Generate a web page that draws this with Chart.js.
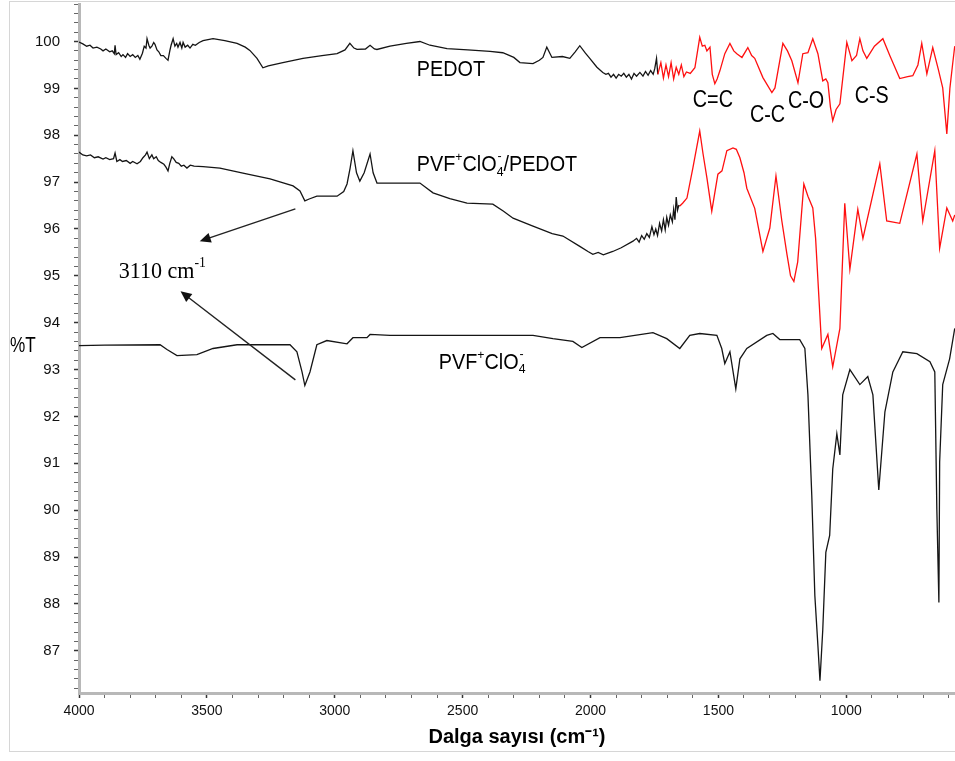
<!DOCTYPE html>
<html>
<head>
<meta charset="utf-8">
<title>FTIR</title>
<script src="https://cdn.jsdelivr.net/npm/chart.js@4.4.1/dist/chart.umd.min.js"></script>
<style>
  html, body { margin: 0; padding: 0; background: #fff; }
  #frame { position: absolute; left: 9px; top: 1px; width: 960px; height: 749px; border: 1px solid #d6d6d6; }
  #ftir { position: absolute; left: 0; top: 0; }
</style>
</head>
<body>
<div id="frame"></div>
<canvas id="ftir" width="955" height="761"></canvas>
<script>
// dalga sayısı (cm-1) ve %T değerleri
const pedotWn = [4000, 3985, 3970, 3957, 3945, 3930, 3915, 3906, 3895, 3880, 3870, 3862, 3859, 3855, 3845, 3835, 3828, 3818, 3810, 3800, 3790, 3780, 3770, 3762, 3752, 3745, 3738, 3734, 3727, 3722, 3715, 3708, 3703, 3695, 3688, 3680, 3670, 3660, 3652, 3645, 3640, 3632, 3625, 3618, 3613, 3605, 3598, 3593, 3585, 3575, 3566, 3555, 3545, 3530, 3515, 3476, 3430, 3382, 3350, 3332, 3304, 3281, 3260, 3203, 3124, 3050, 2991, 2960, 2941, 2925, 2913, 2880, 2862, 2845, 2835, 2784, 2720, 2667, 2628, 2561, 2480, 2393, 2343, 2300, 2276, 2225, 2200, 2186, 2171, 2151, 2110, 2081, 2060, 2042, 2020, 2003, 1975, 1952, 1940, 1930, 1920, 1910, 1900, 1890, 1880, 1870, 1860, 1850, 1840, 1830, 1820, 1807, 1795, 1785, 1775, 1765, 1755, 1749, 1742, 1737, 1725, 1715, 1705, 1695, 1685, 1675, 1665, 1655, 1645, 1635, 1625, 1610, 1592, 1573, 1563, 1553, 1545, 1533, 1524, 1514, 1505, 1494, 1475, 1455, 1440, 1428, 1408, 1385, 1370, 1358, 1326, 1291, 1279, 1248, 1230, 1213, 1189, 1170, 1150, 1131, 1111, 1092, 1080, 1072, 1062, 1053, 1040, 1025, 998, 978, 960, 947, 935, 920, 890, 857, 830, 791, 760, 740, 720, 705, 685, 662, 640, 623, 607, 595, 584, 576];
const pedotT = [99.99, 99.95, 99.9, 99.92, 99.86, 99.88, 99.84, 99.8, 99.84, 99.78, 99.8, 99.74, 99.92, 99.72, 99.76, 99.68, 99.72, 99.66, 99.74, 99.68, 99.72, 99.66, 99.7, 99.62, 99.75, 99.9, 99.86, 100.06, 99.92, 99.86, 99.9, 99.98, 99.94, 99.82, 99.78, 99.7, 99.7, 99.64, 99.6, 99.8, 99.92, 100.06, 99.9, 99.96, 99.88, 99.98, 99.86, 99.98, 99.88, 99.92, 99.86, 99.94, 99.92, 99.98, 100.02, 100.06, 100.02, 99.96, 99.88, 99.81, 99.64, 99.44, 99.48, 99.55, 99.64, 99.7, 99.74, 99.82, 99.96, 99.86, 99.83, 99.84, 99.92, 99.84, 99.83, 99.9, 99.96, 100.0, 99.92, 99.85, 99.82, 99.79, 99.76, 99.66, 99.55, 99.53, 99.6, 99.66, 99.88, 99.66, 99.68, 99.64, 99.78, 99.91, 99.75, 99.64, 99.45, 99.34, 99.3, 99.32, 99.24, 99.3, 99.22, 99.3, 99.26, 99.32, 99.24, 99.3, 99.2, 99.32, 99.26, 99.34, 99.26, 99.36, 99.28, 99.38, 99.3, 99.42, 99.64, 99.3, 99.55, 99.22, 99.5, 99.25, 99.55, 99.2, 99.45, 99.3, 99.5, 99.25, 99.35, 99.32, 99.44, 100.09, 99.9, 99.92, 99.8, 99.88, 99.3, 99.1, 99.2, 99.38, 99.74, 99.96, 99.8, 99.74, 99.66, 99.87, 99.7, 99.64, 99.23, 98.91, 99.01, 99.96, 99.8, 99.59, 99.12, 99.74, 99.76, 100.06, 99.74, 99.16, 99.2, 99.12, 98.6, 98.31, 98.55, 98.67, 99.98, 99.59, 99.7, 100.06, 99.8, 99.64, 99.9, 100.06, 99.7, 99.21, 99.25, 99.27, 99.5, 99.96, 99.31, 99.87, 99.4, 99.01, 98.03, 99.0, 99.53, 99.9];

const kompWn = [4000, 3985, 3970, 3955, 3940, 3925, 3906, 3895, 3880, 3865, 3859, 3852, 3840, 3830, 3815, 3800, 3790, 3773, 3760, 3750, 3740, 3734, 3725, 3715, 3708, 3698, 3690, 3680, 3668, 3660, 3652, 3645, 3637, 3630, 3620, 3610, 3600, 3590, 3578, 3565, 3550, 3515, 3449, 3359, 3253, 3163, 3136, 3117, 3100, 3070, 2991, 2965, 2952, 2940, 2929, 2915, 2902, 2885, 2862, 2850, 2835, 2784, 2667, 2616, 2550, 2483, 2382, 2340, 2303, 2225, 2150, 2108, 2042, 2010, 1991, 1970, 1950, 1913, 1880, 1834, 1820, 1810, 1800, 1790, 1780, 1770, 1760, 1752, 1745, 1738, 1730, 1722, 1715, 1708, 1702, 1695, 1688, 1680, 1675, 1670, 1665, 1660, 1655, 1651, 1640, 1623, 1600, 1573, 1560, 1545, 1526, 1502, 1486, 1467, 1443, 1430, 1416, 1400, 1389, 1358, 1326, 1299, 1275, 1252, 1232, 1218, 1205, 1190, 1166, 1150, 1131, 1120, 1096, 1072, 1053, 1025, 1006, 986, 955, 935, 869, 842, 791, 724, 701, 654, 635, 607, 584, 576];
const kompT = [97.64, 97.58, 97.56, 97.58, 97.52, 97.54, 97.49, 97.52, 97.48, 97.5, 97.62, 97.44, 97.48, 97.44, 97.46, 97.4, 97.44, 97.39, 97.44, 97.52, 97.58, 97.64, 97.5, 97.58, 97.5, 97.54, 97.46, 97.42, 97.38, 97.32, 97.24, 97.4, 97.54, 97.5, 97.42, 97.4, 97.34, 97.36, 97.3, 97.36, 97.34, 97.33, 97.3, 97.19, 97.07, 96.92, 96.81, 96.6, 96.64, 96.7, 96.7, 96.8, 96.96, 97.3, 97.67, 97.2, 97.02, 97.2, 97.6, 97.2, 96.98, 96.98, 96.98, 96.77, 96.65, 96.55, 96.53, 96.38, 96.23, 96.06, 95.9, 95.85, 95.63, 95.52, 95.46, 95.5, 95.45, 95.52, 95.6, 95.74, 95.8, 95.72, 95.86, 95.78, 95.9, 95.82, 96.05, 95.88, 96.0, 95.86, 96.12, 95.96, 96.2, 95.98, 96.25, 96.08, 96.3, 96.15, 96.42, 96.2, 96.68, 96.4, 96.5, 96.49, 96.55, 96.66, 97.3, 98.09, 97.6, 97.09, 96.38, 97.17, 97.24, 97.67, 97.73, 97.7, 97.52, 97.2, 96.87, 96.44, 95.52, 96.02, 97.13, 96.17, 95.46, 95.0, 94.88, 95.3, 96.96, 96.7, 96.45, 95.8, 93.45, 93.75, 93.06, 93.88, 96.55, 95.14, 96.42, 95.8, 97.39, 96.17, 96.12, 97.6, 96.17, 97.67, 95.59, 96.45, 96.17, 96.3];

const pvfWn = [4000, 3900, 3683, 3656, 3617, 3539, 3476, 3382, 3175, 3148, 3128, 3117, 3097, 3070, 3031, 2952, 2929, 2874, 2862, 2784, 2225, 2147, 2069, 2034, 1963, 1885, 1756, 1702, 1651, 1612, 1573, 1506, 1487, 1475, 1455, 1432, 1416, 1389, 1311, 1287, 1260, 1182, 1162, 1150, 1135, 1123, 1111, 1103, 1092, 1080, 1065, 1053, 1037, 1025, 1014, 986, 947, 916, 896, 873, 849, 818, 779, 724, 673, 654, 646, 638, 635, 623, 596, 576];
const pvfT = [93.51, 93.52, 93.53, 93.43, 93.3, 93.32, 93.45, 93.53, 93.53, 93.38, 92.95, 92.66, 92.95, 93.53, 93.62, 93.55, 93.68, 93.68, 93.75, 93.73, 93.73, 93.66, 93.6, 93.47, 93.68, 93.68, 93.79, 93.66, 93.45, 93.73, 93.77, 93.73, 93.45, 93.13, 93.38, 92.59, 93.23, 93.45, 93.73, 93.77, 93.64, 93.64, 93.45, 92.46, 90.32, 88.18, 87.11, 86.36, 87.45, 89.1, 89.46, 90.88, 91.63, 91.18, 92.46, 93.0, 92.68, 92.85, 92.46, 90.43, 92.1, 92.95, 93.38, 93.34, 93.17, 92.95, 90.02, 88.03, 91.03, 92.68, 93.23, 93.88];

// kırmızı çizilen bölgenin başladığı dalga sayısı
const pedotRedFrom = 1737;
const kompRedFrom = 1651;

const xLabels = [4000, 3500, 3000, 2500, 2000, 1500, 1000];

const RED = '#ff1010';
const BLACK = '#151515';

function makeSet(wn, t, redFrom) {
    return {
        data: wn.map((w, i) => ({ x: w, y: t[i] })),
        borderColor: BLACK,
        borderWidth: 1.3,
        pointRadius: 0,
        tension: 0,
        segment: {
            borderColor: c => (redFrom !== null && c.p0.parsed.x <= redFrom) ? RED : BLACK
        }
    };
}

// küçük yazılar (üst/alt indisli)
function drawRich(ctx, parts, px, py, size, family, squeeze) {
    ctx.save();
    ctx.translate(px, py);
    ctx.scale(squeeze, 1);
    ctx.textBaseline = 'alphabetic';
    ctx.textAlign = 'left';
    let cx = 0;
    parts.forEach(p => {
        const small = p.sub || p.sup;
        const s = small ? size * 0.62 : size;
        ctx.font = s + 'px ' + family;
        const dy = p.sup ? -size * 0.45 : (p.sub ? size * 0.22 : 0);
        ctx.fillText(p.t, cx, dy);
        let w = ctx.measureText(p.t).width;
        if (p.over) {
            ctx.fillText(p.over, cx + 1, -size * 0.5);
            w = Math.max(w, ctx.measureText(p.over).width + 1);
        }
        cx += w;
    });
    ctx.restore();
}

function arrow(ctx, x1, y1, x2, y2) {
    const ang = Math.atan2(y2 - y1, x2 - x1);
    const len = 11, half = 5;
    ctx.save();
    ctx.strokeStyle = '#222';
    ctx.fillStyle = '#111';
    ctx.lineWidth = 1.4;
    ctx.beginPath();
    ctx.moveTo(x1, y1);
    ctx.lineTo(x2 - Math.cos(ang) * len * 0.8, y2 - Math.sin(ang) * len * 0.8);
    ctx.stroke();
    ctx.beginPath();
    ctx.moveTo(x2, y2);
    ctx.lineTo(x2 - Math.cos(ang) * len + Math.sin(ang) * half, y2 - Math.sin(ang) * len - Math.cos(ang) * half);
    ctx.lineTo(x2 - Math.cos(ang) * len - Math.sin(ang) * half, y2 - Math.sin(ang) * len + Math.cos(ang) * half);
    ctx.closePath();
    ctx.fill();
    ctx.restore();
}

const SANS = '"Liberation Sans", Arial, sans-serif';
const SERIF = '"Liberation Serif", "Times New Roman", serif';

const notes = {
    id: 'notes',
    afterDatasetsDraw(chart) {
        const { ctx, scales: { x, y } } = chart;
        ctx.save();
        ctx.fillStyle = '#000';
        const at = (w, t) => [x.getPixelForValue(w), y.getPixelForValue(t)];

        let p = at(2679, 99.27);
        drawRich(ctx, [{ t: 'PEDOT' }], p[0], p[1], 22, SANS, 0.9);
        p = at(2679, 97.24);
        drawRich(ctx, [{ t: 'PVF' }, { t: '+', sup: true }, { t: 'ClO' }, { t: '4', sub: true, over: '-' }, { t: '/PEDOT' }], p[0], p[1], 22, SANS, 0.9);
        p = at(2593, 93.02);
        drawRich(ctx, [{ t: 'PVF' }, { t: '+', sup: true }, { t: 'ClO' }, { t: '4', sub: true, over: '-' }], p[0], p[1], 22, SANS, 0.9);
        p = at(3845, 94.95);
        drawRich(ctx, [{ t: '3110 cm' }, { t: '-1', sup: true }], p[0], p[1], 24, SERIF, 0.92);

        p = at(1600, 98.61);
        drawRich(ctx, [{ t: 'C=C' }], p[0], p[1], 23, SANS, 0.86);
        p = at(1377, 98.29);
        drawRich(ctx, [{ t: 'C-C' }], p[0], p[1], 23, SANS, 0.86);
        p = at(1228, 98.59);
        drawRich(ctx, [{ t: 'C-O' }], p[0], p[1], 23, SANS, 0.86);
        p = at(967, 98.69);
        drawRich(ctx, [{ t: 'C-S' }], p[0], p[1], 23, SANS, 0.86);

        // %T ekseni yazısı
        drawRich(ctx, [{ t: '%T' }], 10, y.getPixelForValue(93.38), 22, SANS, 0.78);

        let a = at(3154, 96.43), b = at(3528, 95.74);
        arrow(ctx, a[0], a[1], b[0], b[1]);
        a = at(3154, 92.78); b = at(3603, 94.67);
        arrow(ctx, a[0], a[1], b[0], b[1]);
        ctx.restore();
    }
};

const xTickValues = [];
for (let v = 600; v <= 4000; v += 100) xTickValues.push(v);
const yTickValues = [];
for (let v = 862; v <= 1008; v += 2) yTickValues.push(v / 10);

const isInt = v => Math.abs(v - Math.round(v)) < 1e-6;

const ftirChart = new Chart(document.getElementById('ftir'), {
    type: 'line',
    data: {
        datasets: [
            makeSet(pedotWn, pedotT, pedotRedFrom),
            makeSet(kompWn, kompT, kompRedFrom),
            makeSet(pvfWn, pvfT, null)
        ]
    },
    options: {
        responsive: false,
        animation: false,
        layout: { padding: { top: 4, right: 0, left: 0, bottom: 0 } },
        plugins: { legend: { display: false }, tooltip: { enabled: false } },
        scales: {
            x: {
                type: 'linear',
                reverse: true,
                min: 575,
                max: 4000,
                afterBuildTicks: s => { s.ticks = xTickValues.map(v => ({ value: v })); },
                afterFit: s => { s.height = 68; s.paddingLeft = 0; s.paddingRight = 0; },
                grid: {
                    drawOnChartArea: false,
                    tickLength: 5,
                    tickColor: c => (c.tick && c.tick.value % 500 === 0) ? '#333' : '#666',
                    tickWidth: c => (c.tick && c.tick.value % 500 === 0) ? 1.5 : 1
                },
                border: { color: '#b8b8b8', width: 3 },
                ticks: {
                    autoSkip: false,
                    maxRotation: 0,
                    padding: 5,
                    color: '#111',
                    font: { family: SANS, size: 14 },
                    callback: v => xLabels.includes(v) ? String(v) : ''
                },
                title: {
                    display: true,
                    text: 'Dalga sayısı (cm⁻¹)',
                    color: '#000',
                    font: { family: SANS, size: 20, weight: 'bold' },
                    padding: { top: 0, bottom: 12 }
                }
            },
            y: {
                min: 86.1,
                max: 100.8,
                afterBuildTicks: s => { s.ticks = yTickValues.map(v => ({ value: v })); },
                afterFit: s => { s.width = 79; s.paddingTop = 0; s.paddingBottom = 0; },
                grid: {
                    drawOnChartArea: false,
                    tickLength: 5,
                    tickColor: c => (c.tick && isInt(c.tick.value)) ? '#333' : '#666',
                    tickWidth: c => (c.tick && isInt(c.tick.value)) ? 1.5 : 1
                },
                border: { color: '#b8b8b8', width: 3 },
                ticks: {
                    autoSkip: false,
                    padding: 14,
                    color: '#111',
                    font: { family: SANS, size: 15 },
                    callback: v => isInt(v) ? String(Math.round(v)) : ''
                }
            }
        }
    },
    plugins: [notes]
});
</script>
</body>
</html>
